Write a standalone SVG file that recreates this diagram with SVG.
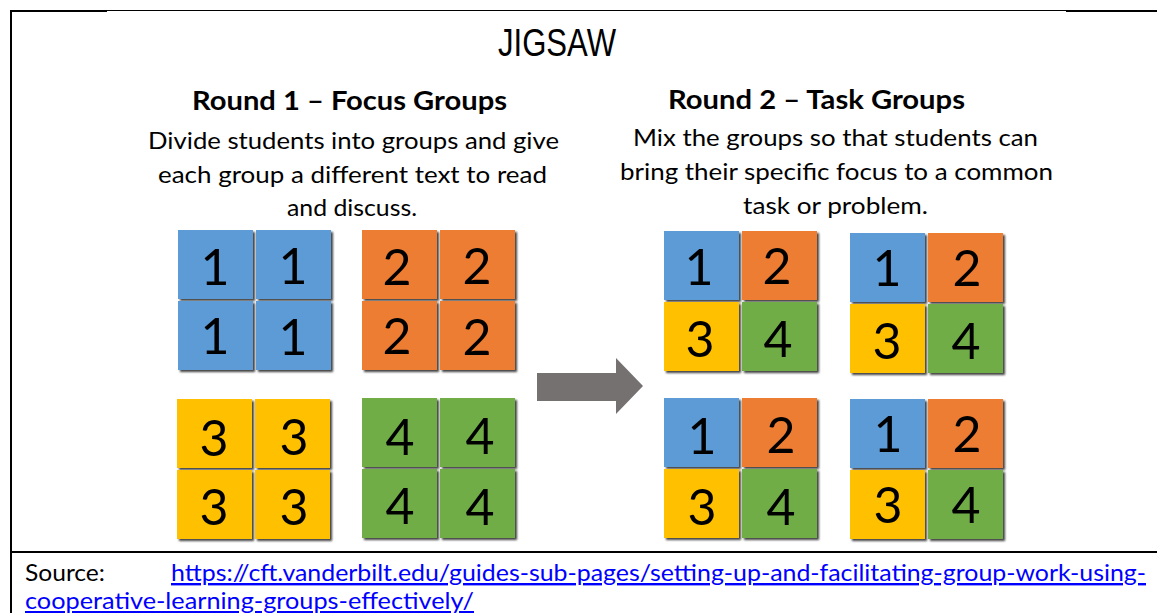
<svg xmlns="http://www.w3.org/2000/svg" width="1157" height="613" viewBox="0 0 1157 613">
  <defs>
    <filter id="tileShadow" x="-10%" y="-10%" width="125%" height="125%">
      <feDropShadow dx="2" dy="2" stdDeviation="1.2" flood-color="#000" flood-opacity="0.75"/>
    </filter>
    <style>
      .frame { stroke: #000; fill: none; }
      .title { font-family: "Liberation Sans", Arial, sans-serif; font-size: 39px; fill: #000; }
      .head { font-family: Lato, "Noto Sans", sans-serif; font-weight: bold; font-size: 27px; fill: #000; }
      .desc { font-family: Lato, "Noto Sans", sans-serif; font-size: 23.5px; fill: #000; }
      .tile { filter: url(#tileShadow); }
      .b { fill: #5B9BD5; }
      .o { fill: #ED7D31; }
      .y { fill: #FFC000; }
      .g { fill: #70AD47; }
      .num { font-family: Lato, "Noto Sans", sans-serif; font-size: 50px; fill: #000; text-anchor: middle; }
      .src { font-family: Lato, "Noto Sans", sans-serif; font-size: 24px; fill: #000; }
      .link { font-family: Lato, "Noto Sans", sans-serif; font-size: 24px; fill: #0000FF; text-decoration: underline; }
    </style>
  </defs>

  <rect width="1157" height="613" fill="#fff"/>

  <!-- page frame -->
  <g id="frame">
    <line class="frame" x1="107" y1="10.5" x2="1066" y2="10.5" stroke-width="1"/>
    <line class="frame" x1="10" y1="11" x2="107" y2="11" stroke-width="2"/>
    <line class="frame" x1="1066" y1="11" x2="1157" y2="11" stroke-width="2"/>
    <line class="frame" x1="11" y1="10" x2="11" y2="613" stroke-width="2"/>
    <line class="frame" x1="10" y1="552" x2="1157" y2="552" stroke-width="2"/>
  </g>

  <text id="title" class="title" x="557" y="56" text-anchor="middle" textLength="118" lengthAdjust="spacingAndGlyphs">JIGSAW</text>

  <!-- round 1 header -->
  <g id="round1-text">
    <text class="head" x="349.5" y="110" text-anchor="middle" textLength="315" lengthAdjust="spacingAndGlyphs">Round 1 – Focus Groups</text>
    <text class="desc" x="353.5" y="149" text-anchor="middle" textLength="411" lengthAdjust="spacingAndGlyphs">Divide students into groups and give</text>
    <text class="desc" x="352.5" y="183" text-anchor="middle" textLength="389" lengthAdjust="spacingAndGlyphs">each group a different text to read</text>
    <text class="desc" x="352" y="216" text-anchor="middle" textLength="130" lengthAdjust="spacingAndGlyphs">and discuss.</text>
  </g>

  <!-- round 2 header -->
  <g id="round2-text">
    <text class="head" x="816.5" y="109" text-anchor="middle" textLength="297" lengthAdjust="spacingAndGlyphs">Round 2 – Task Groups</text>
    <text class="desc" x="835.5" y="146" text-anchor="middle" textLength="405" lengthAdjust="spacingAndGlyphs">Mix the groups so that students can</text>
    <text class="desc" x="836.5" y="180" text-anchor="middle" textLength="433" lengthAdjust="spacingAndGlyphs">bring their specific focus to a common</text>
    <text class="desc" x="835.5" y="214" text-anchor="middle" textLength="185" lengthAdjust="spacingAndGlyphs">task or problem.</text>
  </g>

  <!-- focus groups: four tiles of one number each -->
  <g id="focus-1" transform="translate(178,230)">
    <rect class="tile b" x="0" y="0" width="75" height="69"/>
    <rect class="tile b" x="78" y="0" width="75" height="69"/>
    <rect class="tile b" x="0" y="71" width="75" height="69"/>
    <rect class="tile b" x="78" y="71" width="75" height="69"/>
    <text class="num" x="37" y="55">1</text>
    <text class="num" x="115" y="54">1</text>
    <text class="num" x="37" y="124">1</text>
    <text class="num" x="115" y="125">1</text>
  </g>
  <g id="focus-2" transform="translate(362,230)">
    <rect class="tile o" x="0" y="0" width="75" height="69"/>
    <rect class="tile o" x="78" y="0" width="75" height="69"/>
    <rect class="tile o" x="0" y="71" width="75" height="69"/>
    <rect class="tile o" x="78" y="71" width="75" height="69"/>
    <text class="num" x="35" y="55">2</text>
    <text class="num" x="115" y="54">2</text>
    <text class="num" x="35" y="124">2</text>
    <text class="num" x="115" y="125">2</text>
  </g>
  <g id="focus-3" transform="translate(177,399)">
    <rect class="tile y" x="0" y="0" width="75" height="69"/>
    <rect class="tile y" x="78" y="0" width="75" height="69"/>
    <rect class="tile y" x="0" y="71" width="75" height="69"/>
    <rect class="tile y" x="78" y="71" width="75" height="69"/>
    <text class="num" x="37" y="57">3</text>
    <text class="num" x="117" y="56">3</text>
    <text class="num" x="37" y="126">3</text>
    <text class="num" x="117" y="126">3</text>
  </g>
  <g id="focus-4" transform="translate(362,398)">
    <rect class="tile g" x="0" y="0" width="75" height="69"/>
    <rect class="tile g" x="78" y="0" width="75" height="69"/>
    <rect class="tile g" x="0" y="71" width="75" height="69"/>
    <rect class="tile g" x="78" y="71" width="75" height="69"/>
    <text class="num" x="38" y="57">4</text>
    <text class="num" x="118" y="56">4</text>
    <text class="num" x="38" y="126">4</text>
    <text class="num" x="118" y="127">4</text>
  </g>

  <!-- transition arrow -->
  <g id="connectors">
    <polygon points="537,373 616,373 616,358 643,386 616,414 616,401 537,401" fill="#767171"/>
  </g>

  <!-- task groups: one tile of each number -->
  <g id="task-a" transform="translate(664,231)">
    <rect class="tile b" x="0" y="0" width="75" height="69"/>
    <rect class="tile o" x="78" y="0" width="75" height="69"/>
    <rect class="tile y" x="0" y="71" width="75" height="69"/>
    <rect class="tile g" x="78" y="71" width="75" height="69"/>
    <text class="num" x="35" y="54">1</text>
    <text class="num" x="113" y="53">2</text>
    <text class="num" x="36" y="126">3</text>
    <text class="num" x="114" y="126">4</text>
  </g>
  <g id="task-b" transform="translate(850,233)">
    <rect class="tile b" x="0" y="0" width="75" height="69"/>
    <rect class="tile o" x="78" y="0" width="75" height="69"/>
    <rect class="tile y" x="0" y="71" width="75" height="69"/>
    <rect class="tile g" x="78" y="71" width="75" height="69"/>
    <text class="num" x="37" y="53">1</text>
    <text class="num" x="117" y="53">2</text>
    <text class="num" x="37" y="126">3</text>
    <text class="num" x="116" y="126">4</text>
  </g>
  <g id="task-c" transform="translate(664,398)">
    <rect class="tile b" x="0" y="0" width="75" height="69"/>
    <rect class="tile o" x="78" y="0" width="75" height="69"/>
    <rect class="tile y" x="0" y="71" width="75" height="69"/>
    <rect class="tile g" x="78" y="71" width="75" height="69"/>
    <text class="num" x="38" y="56">1</text>
    <text class="num" x="117" y="55">2</text>
    <text class="num" x="38" y="127">3</text>
    <text class="num" x="117" y="127">4</text>
  </g>
  <g id="task-d" transform="translate(850,399)">
    <rect class="tile b" x="0" y="0" width="75" height="69"/>
    <rect class="tile o" x="78" y="0" width="75" height="69"/>
    <rect class="tile y" x="0" y="71" width="75" height="69"/>
    <rect class="tile g" x="78" y="71" width="75" height="69"/>
    <text class="num" x="38" y="53">1</text>
    <text class="num" x="117" y="53">2</text>
    <text class="num" x="38" y="124">3</text>
    <text class="num" x="116" y="124">4</text>
  </g>

  <!-- source reference -->
  <g id="source">
    <text class="src" x="25" y="581" textLength="80" lengthAdjust="spacingAndGlyphs">Source:</text>
    <text class="link" x="171" y="581" textLength="975" lengthAdjust="spacingAndGlyphs">https://cft.vanderbilt.edu/guides-sub-pages/setting-up-and-facilitating-group-work-using-</text>
    <text class="link" x="25" y="609" textLength="449" lengthAdjust="spacingAndGlyphs">cooperative-learning-groups-effectively/</text>
  </g>
</svg>
